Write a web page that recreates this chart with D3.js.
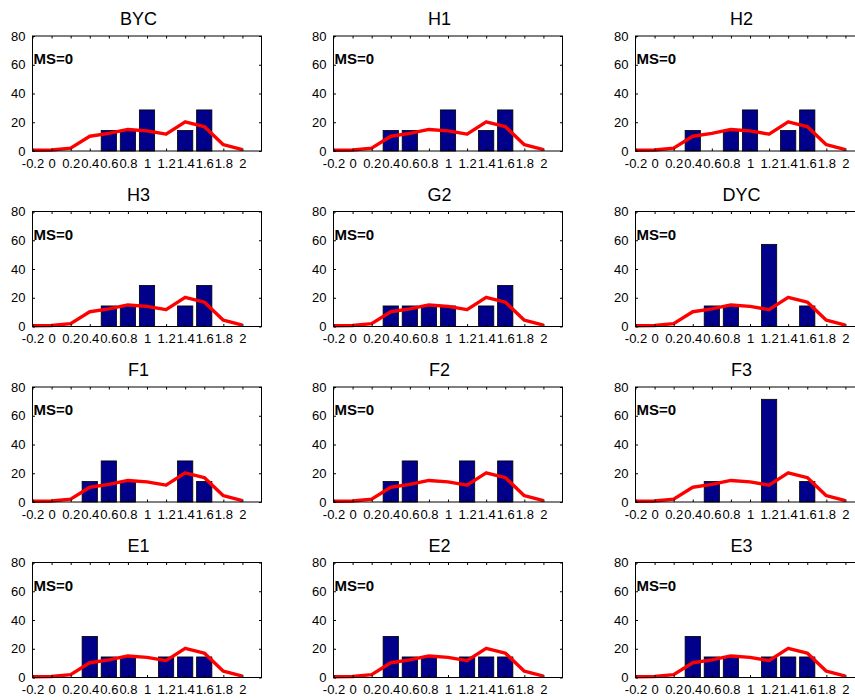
<!DOCTYPE html>
<html>
<head>
<meta charset="utf-8">
<script src="https://d3js.org/d3.v7.min.js"></script>
<style>
  html, body { margin: 0; padding: 0; background: #fff; }
  svg { display: block; font-family: "Liberation Sans", Arial, sans-serif; }
</style>
</head>
<body>
<svg id="chart" width="855" height="700"></svg>
<script>
// Panel titles, in reading order (row by row)
const panelNames = ["BYC", "H1", "H2", "H3", "G2", "DYC", "F1", "F2", "F3", "E1", "E2", "E3"];

// Bin centres shared by the histogram bars and the reference curve
const binCenters = [-0.2, 0, 0.2, 0.4, 0.6, 0.8, 1.0, 1.2, 1.4, 1.6, 1.8, 2.0];

// Tick labels
const xTickLabels = ["-0.2", "0", "0.2", "0.4", "0.6", "0.8", "1", "1.2", "1.4", "1.6", "1.8", "2"];
const yTicks = [0, 20, 40, 60, 80];

// Histogram percentages per panel (one value per bin centre)
const barsBYC = [0, 0, 0, 0, 14.29, 14.29, 28.57, 0, 14.29, 28.57, 0, 0];
const barsH1  = [0, 0, 0, 14.29, 14.29, 0, 28.57, 0, 14.29, 28.57, 0, 0];
const barsH2  = [0, 0, 0, 14.29, 0, 14.29, 28.57, 0, 14.29, 28.57, 0, 0];
const barsH3  = [0, 0, 0, 0, 14.29, 14.29, 28.57, 0, 14.29, 28.57, 0, 0];
const barsG2  = [0, 0, 0, 14.29, 14.29, 14.29, 14.29, 0, 14.29, 28.57, 0, 0];
const barsDYC = [0, 0, 0, 0, 14.29, 14.29, 0, 57.14, 0, 14.29, 0, 0];
const barsF1  = [0, 0, 0, 14.29, 28.57, 14.29, 0, 0, 28.57, 14.29, 0, 0];
const barsF2  = [0, 0, 0, 14.29, 28.57, 0, 0, 28.57, 0, 28.57, 0, 0];
const barsF3  = [0, 0, 0, 0, 14.29, 0, 0, 71.43, 0, 14.29, 0, 0];
const barsE1  = [0, 0, 0, 28.57, 14.29, 14.29, 0, 14.29, 14.29, 14.29, 0, 0];
const barsE2  = [0, 0, 0, 28.57, 14.29, 14.29, 0, 14.29, 14.29, 14.29, 0, 0];
const barsE3  = [0, 0, 0, 28.57, 14.29, 14.29, 0, 14.29, 14.29, 14.29, 0, 0];

const panelBars = [barsBYC, barsH1, barsH2, barsH3, barsG2, barsDYC,
                   barsF1, barsF2, barsF3, barsE1, barsE2, barsE3];

// Reference distribution drawn as the red curve in every panel
const refCurve = [0.5, 0.7, 2, 10.3, 12.3, 15, 14, 11.7, 20.3, 17, 4.4, 1];

const msLabel = "MS=0";

// ---- layout ----
const colLeft = [32.5, 333.5, 635.5];
const rowTop = [36, 211.5, 387, 562.5];
const boxW = 229, boxH = 115;
const tickLen = 2.5;
const barFill = "#00008a";

const svg = d3.select("#chart");

panelNames.forEach((name, i) => {
  const col = i % 3, row = Math.floor(i / 3);
  const g = svg.append("g")
    .attr("transform", `translate(${colLeft[col]},${rowTop[row]})`);

  const x = d3.scaleLinear().domain([-0.2, 2.2]).range([0, boxW]);
  const y = d3.scaleLinear().domain([0, 80]).range([boxH, 0]);
  const barW = x(0.16) - x(0);

  // bars
  const bars = binCenters.map((c, k) => ({ c, v: panelBars[i][k] })).filter(d => d.v > 0);
  g.selectAll("rect.bar").data(bars).enter().append("rect")
    .attr("class", "bar")
    .attr("x", d => x(d.c) - barW / 2)
    .attr("y", d => y(d.v))
    .attr("width", barW)
    .attr("height", d => y(0) - y(d.v))
    .attr("fill", barFill)
    .attr("stroke", "#000")
    .attr("stroke-width", 0.8);

  // reference curve
  const line = d3.line().x((d, k) => x(binCenters[k])).y(d => y(d));
  g.append("path")
    .datum(refCurve)
    .attr("d", line)
    .attr("fill", "none")
    .attr("stroke", "#ff0000")
    .attr("stroke-width", 3.4)
    .attr("stroke-linejoin", "round")
    .attr("stroke-linecap", "butt");

  // axes (ticks pointing inward, box on all sides)
  const xAxisB = d3.axisBottom(x).tickValues(binCenters)
    .tickFormat((d, k) => xTickLabels[k]).tickSizeInner(-tickLen).tickSizeOuter(0).tickPadding(7.5);
  const xAxisT = d3.axisTop(x).tickValues(binCenters)
    .tickFormat("").tickSizeInner(-tickLen).tickSizeOuter(0);
  const yAxisL = d3.axisLeft(y).tickValues(yTicks)
    .tickSizeInner(-tickLen).tickSizeOuter(0).tickPadding(7);
  const yAxisR = d3.axisRight(y).tickValues(yTicks)
    .tickFormat("").tickSizeInner(-tickLen).tickSizeOuter(0);

  const styleAxis = sel => {
    sel.select(".domain").remove();
    sel.selectAll("line").attr("stroke", "#000");
    sel.selectAll("text").attr("fill", "#000").attr("font-size", 13)
      .attr("font-family", "'Liberation Sans', Arial, sans-serif");
  };

  g.append("g").attr("transform", `translate(0,${boxH})`).call(xAxisB).call(styleAxis);
  g.append("g").call(xAxisT).call(styleAxis);
  g.append("g").call(yAxisL).call(styleAxis);
  g.append("g").attr("transform", `translate(${boxW},0)`).call(yAxisR).call(styleAxis);

  g.append("rect")
    .attr("x", 0).attr("y", 0).attr("width", boxW).attr("height", boxH)
    .attr("fill", "none").attr("stroke", "#000").attr("stroke-width", 1);

  // title
  g.append("text")
    .attr("x", boxW * 0.463).attr("y", -11)
    .attr("text-anchor", "middle")
    .attr("font-size", 18)
    .attr("fill", "#000")
    .text(name);

  // annotation
  g.append("text")
    .attr("x", 1).attr("y", 28)
    .attr("font-size", 15)
    .attr("font-weight", "bold")
    .attr("fill", "#000")
    .text(msLabel);
});
</script>
</body>
</html>
